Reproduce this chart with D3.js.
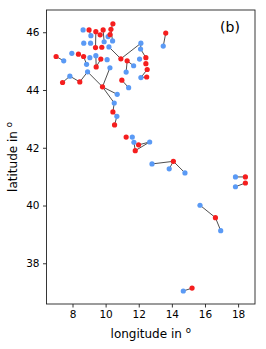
<!DOCTYPE html>
<html>
<head>
<meta charset="utf-8">
<script src="https://cdn.jsdelivr.net/npm/d3@7"></script>
<style>
body { margin: 0; background: #fff; }
svg { display: block; font-family: "DejaVu Sans", sans-serif; }
</style>
</head>
<body>
<svg id="chart"></svg>
<script>
// blue points (id, lon, lat)
var blueIds = ["b1","b2","b3","b4","b5","b6","b7","b8","b9","b10","b11","b12","b13","b14","b15","b16","b17","b18","b19","b20","b21","b22","b23","b24","b25","b26","b27","b28","b29","b30","b31","b32","b33","b34","b35","b36","b37","b38","b39"];
var blueLon = [8.64, 9.11, 10.15, 10.42, 8.68, 9.09, 9.91, 10.20, 12.13, 12.11, 7.47, 7.96, 9.05, 9.41, 10.09, 8.85, 10.26, 11.69, 12.05, 12.13, 11.24, 11.39, 7.84, 8.91, 10.70, 10.52, 10.68, 11.61, 11.71, 12.66, 12.80, 13.84, 14.79, 17.84, 17.84, 15.70, 16.95, 14.69, 13.48];
var blueLat = [46.08, 45.88, 45.85, 45.70, 45.62, 45.62, 45.67, 45.49, 45.62, 45.42, 45.01, 45.27, 45.12, 45.19, 45.05, 44.89, 44.77, 44.84, 45.07, 44.43, 44.62, 44.08, 44.48, 44.63, 43.85, 43.55, 43.09, 42.37, 42.19, 42.20, 41.44, 41.27, 41.13, 40.99, 40.65, 40.01, 39.13, 37.04, 45.52];

// red points
var redIds = ["r1","r2","r3","r4","r5","r6","r7","r8","r9","r10","r11","r12","r13","r14","r15","r16","r17","r18","r19","r20","r21","r22","r23","r24","r25","r26","r27","r28","r29","r30","r31","r32","r33","r34","r35"];
var redLon = [9.00, 9.41, 9.85, 9.67, 10.32, 10.44, 10.27, 9.39, 9.77, 7.01, 8.36, 8.67, 9.71, 9.43, 10.92, 11.30, 12.43, 12.43, 12.51, 12.48, 10.98, 7.40, 8.44, 9.81, 10.44, 10.54, 11.24, 11.99, 11.79, 14.09, 18.44, 18.44, 16.63, 15.22, 13.63];
var redLat = [46.08, 46.02, 46.08, 45.91, 46.10, 46.29, 45.92, 45.47, 45.48, 45.16, 45.24, 45.16, 45.07, 44.80, 45.08, 45.01, 45.12, 44.91, 44.71, 44.45, 44.34, 44.26, 44.28, 44.11, 43.24, 42.79, 42.37, 42.10, 41.90, 41.53, 40.99, 40.78, 39.58, 37.14, 45.97];

// connections between points
var links = [
  ["r1","b2"], ["r2","r8"], ["r3","b7"], ["r5","r6"], ["r7","b3"], ["r5","b4"],
  ["b8","r15"], ["r15","b9"], ["b9","b10"], ["b10","r17"],
  ["r16","b18"], ["r16","b21"], ["r19","b20"], ["r20","b20"], ["r21","b22"],
  ["r10","b11"], ["r12","b16"], ["r13","r14"], ["b14","r14"], ["b17","r24"],
  ["r22","b23"], ["b23","r23"], ["r23","b24"], ["b24","r24"],
  ["r24","b25"], ["r24","b26"], ["b26","r25"], ["r25","b27"], ["b27","r26"],
  ["b29","r29"], ["r29","b30"], ["r28","b30"],
  ["b31","r30"], ["r30","b32"], ["r30","b33"],
  ["b34","r31"], ["b35","r32"], ["b36","r33"], ["r33","b37"],
  ["b38","r34"], ["r35","b39"]
];

var xTicks = [8, 10, 12, 14, 16, 18];
var yTicks = [38, 40, 42, 44, 46];

var svgWidth = 266, svgHeight = 349;
var plotLeft = 46.5, plotRight = 255, plotTop = 10, plotBottom = 304;

var svg = d3.select("#chart")
    .attr("width", svgWidth)
    .attr("height", svgHeight);

var xScale = d3.scaleLinear()
    .domain([6.43, 19.02])
    .range([plotLeft, plotRight]);

var yScale = d3.scaleLinear()
    .domain([36.59, 46.77])
    .range([plotBottom, plotTop]);

var pts = {};
blueIds.forEach(function (id, i) {
    pts[id] = {lon: blueLon[i], lat: blueLat[i], c: "blue"};
});
redIds.forEach(function (id, i) {
    pts[id] = {lon: redLon[i], lat: redLat[i], c: "red"};
});

svg.append("g")
    .selectAll("line")
    .data(links)
    .enter()
    .append("line")
    .attr("x1", function (d) { return xScale(pts[d[0]].lon); })
    .attr("y1", function (d) { return yScale(pts[d[0]].lat); })
    .attr("x2", function (d) { return xScale(pts[d[1]].lon); })
    .attr("y2", function (d) { return yScale(pts[d[1]].lat); })
    .attr("stroke", "#222")
    .attr("stroke-width", 0.8);

var all = Object.keys(pts).map(function (k) { return pts[k]; });

svg.append("g")
    .selectAll("circle")
    .data(all)
    .enter()
    .append("circle")
    .attr("cx", function (d) { return xScale(d.lon); })
    .attr("cy", function (d) { return yScale(d.lat); })
    .attr("r", 2.6)
    .attr("fill", function (d) { return d.c == "red" ? "#f51e1e" : "#5a9af5"; });

// axes
var x_axis = d3.axisBottom(xScale)
    .tickValues(xTicks)
    .tickSize(3.5)
    .tickPadding(3.5);
var y_axis = d3.axisLeft(yScale)
    .tickValues(yTicks)
    .tickSize(3.5)
    .tickPadding(3.5);

var gx = svg.append("g")
    .attr("transform", "translate(0," + plotBottom + ")")
    .call(x_axis);
var gy = svg.append("g")
    .attr("transform", "translate(" + plotLeft + ",0)")
    .call(y_axis);

[gx, gy].forEach(function (g) {
    g.select(".domain").remove();
    g.selectAll("line").attr("stroke", "#000").attr("stroke-width", 0.8);
    g.selectAll("text").attr("fill", "#000").style("font-size", "10.5px")
        .style("font-family", "DejaVu Sans, sans-serif");
});

svg.append("rect")
    .attr("x", plotLeft)
    .attr("y", plotTop)
    .attr("width", plotRight - plotLeft)
    .attr("height", plotBottom - plotTop)
    .attr("fill", "none")
    .attr("stroke", "#222")
    .attr("stroke-width", 0.9);

// labels
var xl = svg.append("text")
    .attr("x", (plotLeft + plotRight) / 2)
    .attr("y", 338)
    .attr("text-anchor", "middle")
    .style("font-size", "12px");
xl.append("tspan").text("longitude in ");
xl.append("tspan").attr("dy", -5).style("font-size", "8.5px").text("o");

var yl = svg.append("text")
    .attr("transform", "translate(17," + ((plotTop + plotBottom) / 2) + ") rotate(-90)")
    .attr("text-anchor", "middle")
    .style("font-size", "12px");
yl.append("tspan").text("latitude in ");
yl.append("tspan").attr("dy", -5).style("font-size", "8.5px").text("o");

svg.append("text")
    .attr("x", 230)
    .attr("y", 32)
    .attr("text-anchor", "middle")
    .style("font-size", "14px")
    .text("(b)");
</script>
</body>
</html>
